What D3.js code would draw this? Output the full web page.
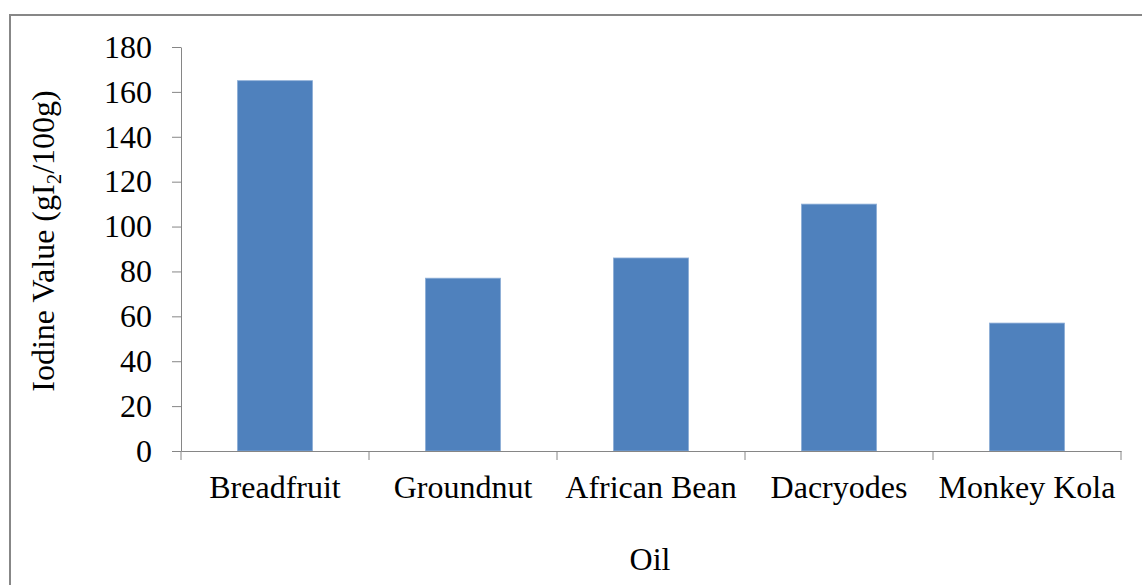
<!DOCTYPE html>
<html><head><meta charset="utf-8">
<script src="https://cdn.jsdelivr.net/npm/d3@7"></script>
<style>body{margin:0;background:#fff;} svg{display:block;}</style>
</head><body>
<script>
const categories = ["Breadfruit","Groundnut","African Bean","Dacryodes","Monkey Kola"];
const values = [165, 77, 86, 110, 57];
const yTicks = [0,20,40,60,80,100,120,140,160,180];
const W = 1142, H = 585;
const svg = d3.select("body").append("svg").attr("width", W).attr("height", H);
svg.append("rect").attr("x", 10).attr("y", 15).attr("width", 1150).attr("height", 600)
  .attr("fill", "#fff").attr("stroke", "#878787").attr("stroke-width", 2);
const mLeft = 181, mRight = 1121, mTop = 47, mBottom = 451;
const fs = 32;
const x = d3.scaleBand().domain(categories).range([mLeft, mRight]).paddingInner(0.6).paddingOuter(0.3);
const y = d3.scaleLinear().domain([0, 180]).range([mBottom, mTop]);
const font = "'Liberation Serif','Times New Roman',serif";
svg.selectAll(".bar").data(values).enter().append("rect")
  .attr("x", (d,i) => x(categories[i])).attr("width", x.bandwidth())
  .attr("y", d => y(d)).attr("height", d => y(0) - y(d))
  .attr("fill", "#4F81BD").attr("stroke", "#8fb0d8").attr("stroke-width", 0.8);
const ya = svg.append("g").attr("transform", `translate(${mLeft},0)`)
  .call(d3.axisLeft(y).tickValues(yTicks).tickSize(9).tickPadding(20).tickSizeOuter(0));
ya.select(".domain").attr("stroke", "#868686");
ya.selectAll(".tick line").attr("stroke", "#868686");
ya.selectAll("text").attr("font-family", font).attr("font-size", fs).attr("fill", "#000");
const xBand = d3.scaleBand().domain(categories).range([mLeft, mRight]);
const xa = svg.append("g").attr("transform", `translate(0,${mBottom})`)
  .call(d3.axisBottom(xBand).tickSize(0).tickPadding(24));
xa.select(".domain").attr("stroke", "#868686");
xa.selectAll("text").attr("font-family", font).attr("font-size", fs).attr("fill", "#000");
const bounds = categories.map(c => xBand(c)).concat([mRight]);
svg.selectAll(".sep").data(bounds).enter().append("line")
  .attr("x1", d => d).attr("x2", d => d).attr("y1", mBottom).attr("y2", mBottom + 9)
  .attr("stroke", "#868686");
svg.append("text").attr("x", (mLeft + mRight) / 2 - 1).attr("y", 570).attr("text-anchor", "middle")
  .attr("font-family", font).attr("font-size", fs).text("Oil");
const yt = svg.append("text").attr("transform", `translate(54,${(mTop+mBottom)/2 - 8}) rotate(-90)`)
  .attr("text-anchor", "middle").attr("font-family", font).attr("font-size", fs);
yt.append("tspan").text("Iodine Value (gI");
yt.append("tspan").attr("font-size", 21).attr("dy", 7).text("2");
yt.append("tspan").attr("dy", -7).text("/100g)");
</script>
</body></html>
